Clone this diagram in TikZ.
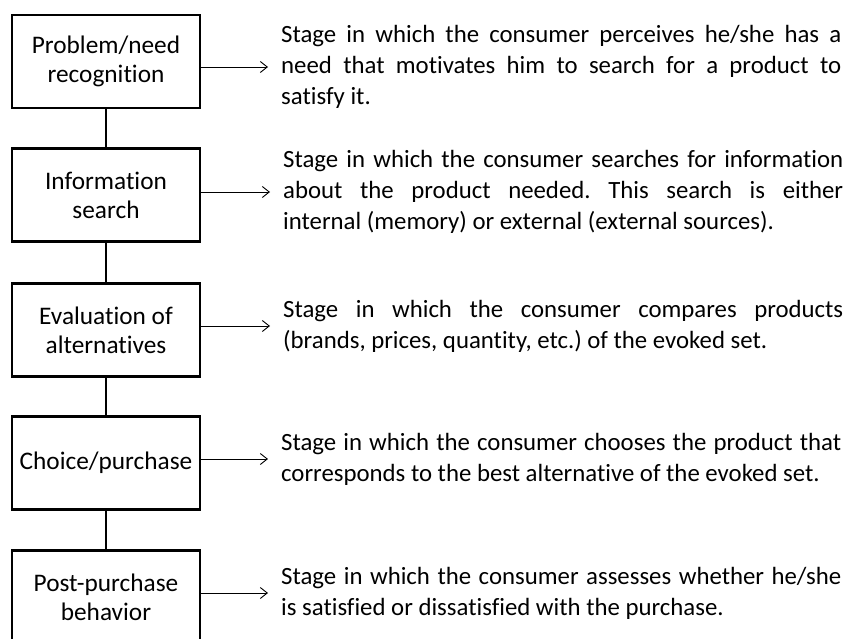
\documentclass[tikz,border=0pt]{standalone}
\usepackage{fontspec}
\setmainfont{Carlito}[Ligatures=NoCommon]
\usetikzlibrary{arrows.meta}
\frenchspacing
\newlength\descw
\setlength\descw{560bp}
% a line stretched to the full width of a description
\newcommand\fullline[1]{\makebox[\descw][s]{#1}}
\begin{document}
\begin{tikzpicture}[x=1bp,y=-1bp,
  stagebox/.style={draw, line width=2.9bp, minimum width=188bp, minimum height=93bp,
    align=center, inner sep=0pt, font=\fontsize{25.3bp}{29bp}\selectfont},
  desc/.style={anchor=west, inner sep=0pt, align=left,
    font=\fontsize{24.8bp}{31bp}\selectfont},
  link/.style={line width=2.9bp},
  pointer/.style={line width=0.9bp, -{Straight Barb[length=7bp,width=11bp]}, shorten >=13bp}]
\useasboundingbox (0,0) rectangle (843,639);
\clip (0,0) rectangle (843,639);
\fill[white] (0,0) rectangle (843,639);

% stages
\node[stagebox] (b1) at (106,61.5) {Problem/need\\recognition};
\node[stagebox] (b2) at (106,195) {Information\\search};
\node[stagebox] (b3) at (106,330) {Evaluation of\\alternatives};
\node[stagebox] (b4) at (106,463) {Choice/purchase};
\node[stagebox] (b5) at (106,597) {Post-purchase\\behavior};

% descriptions
\node[desc] (t1) at (281,67) {\fullline{Stage in which the consumer perceives he/she has a}\\
  \fullline{need that motivates him to search for a product to}\\satisfy it.};
\node[desc] (t2) at (283,192) {\fullline{Stage in which the consumer searches for information}\\
  \fullline{about the product needed. This search is either}\\internal (memory) or external (external sources).};
\node[desc] (t3) at (283,326) {\fullline{Stage in which the consumer compares products}\\
  (brands, prices, quantity, etc.) of the evoked set.};
\node[desc] (t4) at (281,459) {\fullline{Stage in which the consumer chooses the product that}\\
  corresponds to the best alternative of the evoked set.};
\node[desc] (t5) at (281,593) {\fullline{Stage in which the consumer assesses whether he/she}\\
  is satisfied or dissatisfied with the purchase.};

% vertical links between stages
\draw[link] (b1.south) -- (b2.north);
\draw[link] (b2.south) -- (b3.north);
\draw[link] (b3.south) -- (b4.north);
\draw[link] (b4.south) -- (b5.north);

% pointers from stages to descriptions
\foreach \i in {1,...,5}
  \draw[pointer] (t\i.west -| b\i.east) -- (t\i.west);
\end{tikzpicture}
\end{document}
